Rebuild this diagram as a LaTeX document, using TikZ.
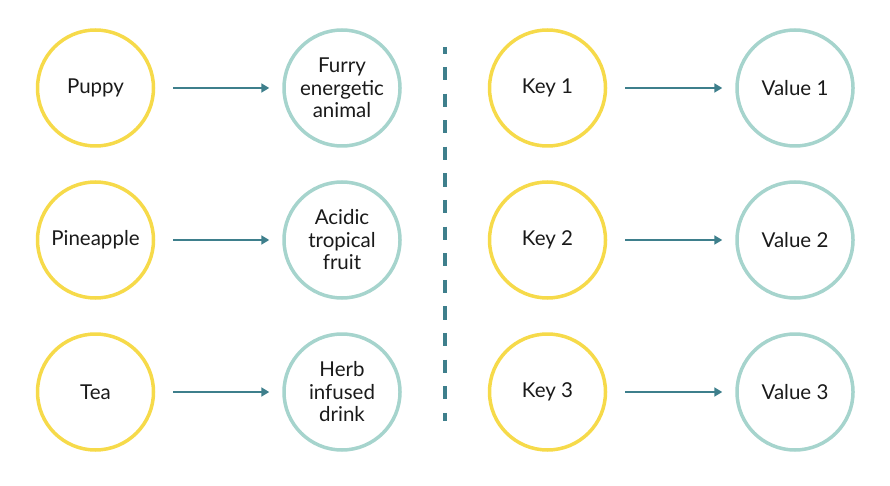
\documentclass[tikz,border=0pt]{standalone}
\usepackage{fontspec}
\setmainfont{Lato}
\usetikzlibrary{arrows.meta}
\definecolor{keyyellow}{HTML}{F6DA4A}
\definecolor{valteal}{HTML}{A6D4CD}
\definecolor{arrowteal}{HTML}{3E7F8C}
\definecolor{txt}{HTML}{1A1A1A}
\tikzset{
  keycirc/.style={circle, draw=keyyellow, line width=3.5pt, minimum size=116pt, inner sep=0pt, align=center, text=txt, font=\fontsize{20.5}{22.5}\selectfont},
  valcirc/.style={circle, draw=valteal, line width=3.5pt, minimum size=116pt, inner sep=0pt, align=center, text=txt, font=\fontsize{20.5}{22.5}\selectfont},
  maparrow/.style={draw=arrowteal, line width=1.8pt, -{Triangle[length=8pt,width=9pt]}}
}
\begin{document}
\begin{tikzpicture}[x=1pt,y=-1pt]
\useasboundingbox (0,0) rectangle (890,486);
% left
\node[keycirc] (k1) at (95.5,88) {Puppy};
\node[keycirc] (k2) at (95.5,240) {Pineapple};
\node[keycirc] (k3) at (95.5,392) {Tea};
\node[valcirc] (v1) at (342,88) {Furry\\energetic\\animal};
\node[valcirc] (v2) at (342,240) {Acidic\\tropical\\fruit};
\node[valcirc] (v3) at (342,392) {Herb\\infused\\drink};
% right
\node[keycirc] (k4) at (547.5,88) {Key 1};
\node[keycirc] (k5) at (547.5,240) {Key 2};
\node[keycirc] (k6) at (547.5,392) {Key 3};
\node[valcirc] (v4) at (795,88) {Value 1};
\node[valcirc] (v5) at (795,240) {Value 2};
\node[valcirc] (v6) at (795,392) {Value 3};
% arrows
\foreach \a/\b in {k1/v1,k2/v2,k3/v3,k4/v4,k5/v5,k6/v6}{
  \draw[maparrow] ([xshift=18pt]\a.east) -- ([xshift=-13pt]\b.west);
}
% divider
\coordinate (dtop) at (445,47);
\coordinate (dbot) at (445,421);
\draw[arrowteal, line width=4.5pt, dash pattern=on 13.3pt off 13.3pt, dash phase=6.65pt] (dtop) -- (dbot);
\end{tikzpicture}
\end{document}
